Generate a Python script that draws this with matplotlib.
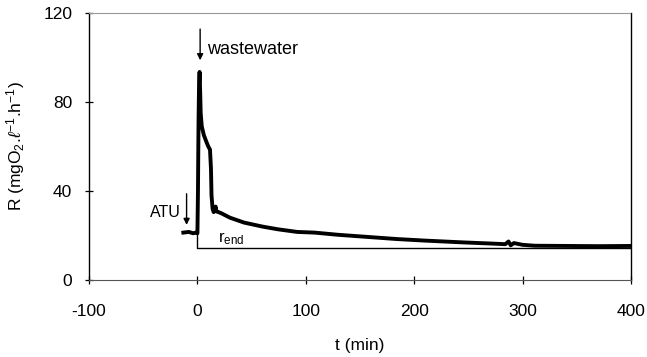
import matplotlib
matplotlib.use('Agg')
import matplotlib.pyplot as plt

plt.rcParams['font.family'] = ['Liberation Sans', 'DejaVu Sans']
plt.rcParams['mathtext.fontset'] = 'custom'
plt.rcParams['mathtext.rm'] = 'Liberation Sans'
plt.rcParams['mathtext.it'] = 'Liberation Sans:italic'
plt.rcParams['axes.unicode_minus'] = False

# respiration rate
t_min = [-13, -8, -4, -1, 0, 0.5, 1, 1.5, 2, 2.5, 3, 4, 6, 8.5, 10, 11.6, 12.5, 13, 14,
         15, 16, 16.8, 17.5, 19, 22, 30, 43, 60, 74, 92, 108, 130, 150, 184, 210,
         245, 270, 284, 287, 289, 292, 300, 311, 340, 370, 400]
rate = [21.3, 21.6, 21.0, 21.3, 21.0, 40, 70, 88, 93.5, 85, 75, 69, 65, 61.8, 60, 58.6, 50,
        38, 32, 30.5, 31.5, 33, 30.8, 30.6, 30.0, 28.0, 25.8, 24.0, 22.8, 21.6, 21.3, 20.3,
        19.6, 18.4, 17.7, 16.9, 16.4, 16.1, 17.3, 15.6, 16.6, 15.8, 15.4, 15.3, 15.2, 15.3]
r_end = 14.5

x_ticks = [-100, 0, 100, 200, 300, 400]
y_ticks = [0, 40, 80, 120]

fig = plt.figure(figsize=(6.47, 3.57), dpi=100)
ax = fig.add_axes([0.1376, 0.2157, 0.8377, 0.748])

ax.plot(t_min, rate, color='black', lw=2.8, solid_joinstyle='round')
ax.plot([0, 0, 400], [rate[4], r_end, r_end], color='black', lw=1.0)

ax.set_xlim(-100, 400)
ax.set_ylim(0, 120)
ax.set_xticks(x_ticks)
ax.set_yticks(y_ticks)
ax.tick_params(direction='inout', length=6, width=0.9, labelsize=12.5)
ax.tick_params(axis='x', pad=14)
ax.tick_params(axis='y', pad=9)

for side in ['left', 'right']:
    ax.spines[side].set_color('black')
    ax.spines[side].set_linewidth(1.0)
ax.spines['bottom'].set_color('#555555')
ax.spines['top'].set_color('#999999')
ax.spines['top'].set_linestyle((0, (1, 1)))

ax.set_xlabel('t (min)', fontsize=12.5, labelpad=14)
ax.set_ylabel(r'R (mgO$_2$.$\ell^{-1}$.h$^{-1}$)', fontsize=12.5, labelpad=12)

# annotations
ax.annotate('', xy=(-10, 23.5), xytext=(-10, 40),
            arrowprops=dict(arrowstyle='-|>', color='black', lw=1.0, mutation_scale=9))
ax.text(-15, 30.5, 'ATU', fontsize=11.5, ha='right', va='center')
ax.annotate('', xy=(2.5, 97.5), xytext=(2.5, 114),
            arrowprops=dict(arrowstyle='-|>', color='black', lw=1.0, mutation_scale=9))
ax.text(8.5, 103.5, 'wastewater', fontsize=13, ha='left', va='center')
ax.text(19, 18.5, r'r$_{\rm end}$', fontsize=12, ha='left', va='center')

fig.savefig('out.png', dpi=100)
